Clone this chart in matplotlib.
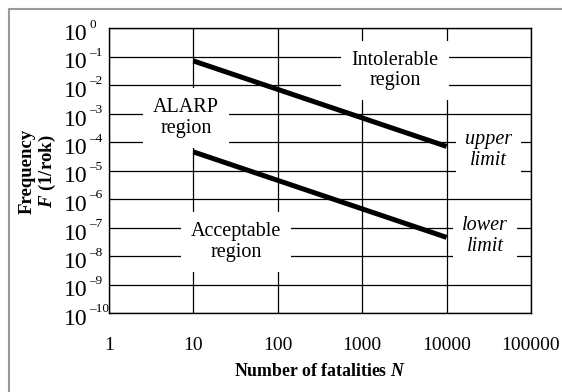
import matplotlib
matplotlib.use("Agg")
import matplotlib.pyplot as plt
import matplotlib.transforms as mtransforms
from matplotlib.lines import Line2D

plt.rcParams['font.family'] = ['Liberation Serif', 'DejaVu Serif']
plt.rcParams['mathtext.fontset'] = 'custom'
plt.rcParams['mathtext.rm'] = 'Liberation Serif'
plt.rcParams['mathtext.it'] = 'Liberation Serif:italic'
plt.rcParams['mathtext.bf'] = 'Liberation Serif:bold'
plt.rcParams['mathtext.bfit'] = 'Liberation Serif:bold:italic'

# ---- data ----
fatalities = [10, 10000]
upper_limit = [7e-2, 7e-5]
lower_limit = [4.5e-5, 4.5e-8]
x_ticks = [1, 10, 100, 1000, 10000, 100000]
x_tick_labels = ['1', '10', '100', '1000', '10000', '100000']
y_exponents = [0, -1, -2, -3, -4, -5, -6, -7, -8, -9, -10]
region_labels = ['Intolerable\nregion', 'ALARP\nregion', 'Acceptable\nregion']
region_pos = [(2450, 0.032), (8.2, 7.0e-4), (32, 3.1e-8)]
limit_labels = ['upper\nlimit', 'lower\nlimit']
limit_pos = [(31600, 5.2e-5), (28500, 5.0e-8)]

fig = plt.figure(figsize=(5.62, 3.92), dpi=100)
ax = fig.add_axes([109/562, 1 - 313/392, 422/562, 285/392])
ax.set_xscale('log')
ax.set_yscale('log')
ax.set_xlim(1, 100000)
ax.set_ylim(1e-10, 1)

ax.set_xticks(x_ticks)
ax.set_xticklabels(x_tick_labels, fontsize=14)
ax.set_yticks([10.0**e for e in y_exponents])
ax.set_yticklabels([])
ax.minorticks_off()
ax.tick_params(axis='both', length=0)
ax.tick_params(axis='x', pad=17)
ax.grid(True, color='black', linewidth=0.9, zorder=1)
for s in ax.spines.values():
    s.set_linewidth(1.0)
    s.set_zorder(5)

# y tick labels drawn as "10" + small superscript exponent
blend = mtransforms.blended_transform_factory(ax.transAxes, ax.transData)
for e in y_exponents:
    base_tr = mtransforms.offset_copy(blend, fig=fig, x=-21, y=-12, units='dots')
    ax.text(0, 10.0**e, '10', transform=base_tr, ha='right', va='baseline',
            fontsize=17, clip_on=False)
    sup_tr = mtransforms.offset_copy(blend, fig=fig, x=-19.5, y=0.5, units='dots')
    ax.text(0, 10.0**e, str(e).replace('-', '\u2013'), transform=sup_tr, ha='left',
            va='baseline', fontsize=9.5, clip_on=False)

ax.plot(fatalities, upper_limit, color='black', linewidth=3.6, solid_capstyle='butt', zorder=4)
ax.plot(fatalities, lower_limit, color='black', linewidth=3.6, solid_capstyle='butt', zorder=4)

for lab, (x, y) in zip(region_labels, region_pos):
    ax.text(x, y, lab, ha='center', va='center', fontsize=14.5, linespacing=1.1,
            bbox=dict(boxstyle='square,pad=0.5', facecolor='white', edgecolor='none'), zorder=3)
for lab, (x, y) in zip(limit_labels, limit_pos):
    ax.text(x, y, lab, ha='center', va='center', fontsize=14.5, style='italic', linespacing=1.1,
            bbox=dict(boxstyle='square,pad=0.45', facecolor='white', edgecolor='none'), zorder=3)

fig.text(320/562, 1 - 372/392, r'Number of fatalities $\mathbfit{N}$', ha='center', va='center',
         fontsize=12.8, fontweight='bold')
fig.text(27/562, 1 - 171/392, 'Frequency', ha='center', va='center', rotation=90,
         fontsize=13.5, fontweight='bold')
fig.text(47/562, 1 - 171/392, r'$\mathbfit{F}$ (1/rok)', ha='center', va='center', rotation=90,
         fontsize=13.5, fontweight='bold')

# figure frame (left and top edges)
fig.add_artist(Line2D([9/562, 9/562, 1.0], [0.0, 1 - 9/392, 1 - 9/392],
                      transform=fig.transFigure, color='#999999', linewidth=1.5))

fig.savefig('out.png', dpi=100)
